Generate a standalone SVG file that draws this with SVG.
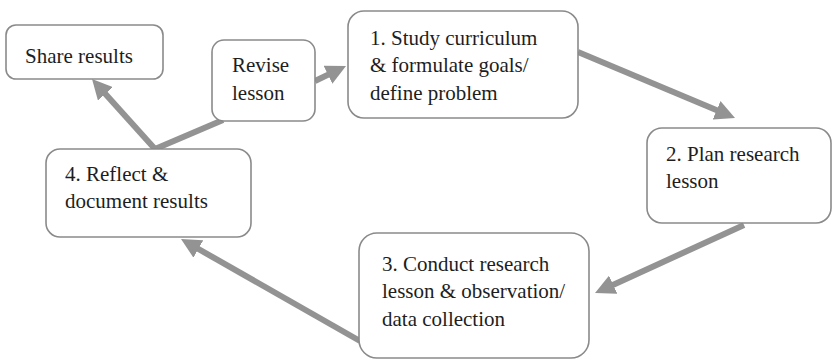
<svg xmlns="http://www.w3.org/2000/svg" width="832" height="360" viewBox="0 0 832 360">
  <style>
    .box { fill: #ffffff; stroke: #8a8a8a; stroke-width: 1.6; }
    .label { font-size: 21px; fill: #1e1e1e; }
    .link { stroke: #939393; stroke-width: 6; fill: none; }
  </style>
  <defs>
    <marker id="head" viewBox="0 0 20 20" markerWidth="20" markerHeight="20" refX="10" refY="10" orient="auto" markerUnits="userSpaceOnUse">
      <path d="M0,0 L20,10 L0,20 z" fill="#939393"/>
    </marker>
  </defs>

  <!-- connectors -->
  <g id="connectors">
    <line class="link" x1="578" y1="52" x2="725.8" y2="114.1" marker-end="url(#head)"/>
    <line class="link" x1="744" y1="225" x2="604.1" y2="288.9" marker-end="url(#head)"/>
    <line class="link" x1="360" y1="341" x2="189.7" y2="244" marker-end="url(#head)"/>
    <line class="link" x1="155" y1="149" x2="98.7" y2="86.4" marker-end="url(#head)"/>
    <line class="link" x1="155" y1="149" x2="223" y2="120"/>
    <line class="link" x1="315" y1="81" x2="337" y2="70.4" marker-end="url(#head)"/>
  </g>

  <g font-family="Liberation Serif, serif">
    <g id="share">
      <rect class="box" x="6" y="25" width="157" height="54" rx="10"/>
      <text class="label" x="25" y="63">Share results</text>
    </g>

    <g id="revise">
      <rect class="box" x="212" y="40" width="103" height="81" rx="12"/>
      <text class="label" x="232" y="72">Revise</text>
      <text class="label" x="232" y="100">lesson</text>
    </g>

    <g id="step1">
      <rect class="box" x="348" y="11" width="230" height="107" rx="16"/>
      <text class="label" x="370" y="45">1. Study curriculum</text>
      <text class="label" x="370" y="72">&amp; formulate goals/</text>
      <text class="label" x="370" y="100">define problem</text>
    </g>

    <g id="step2">
      <rect class="box" x="647" y="128" width="184" height="95" rx="15"/>
      <text class="label" x="666" y="161">2. Plan research</text>
      <text class="label" x="666" y="188">lesson</text>
    </g>

    <g id="step3">
      <rect class="box" x="359" y="233" width="230" height="125" rx="18"/>
      <text class="label" x="382" y="271">3. Conduct research</text>
      <text class="label" x="382" y="298">lesson &amp; observation/</text>
      <text class="label" x="382" y="326">data collection</text>
    </g>

    <g id="step4">
      <rect class="box" x="46" y="149" width="205" height="88" rx="14"/>
      <text class="label" x="65" y="181">4. Reflect &amp;</text>
      <text class="label" x="65" y="208">document results</text>
    </g>
  </g>
</svg>
